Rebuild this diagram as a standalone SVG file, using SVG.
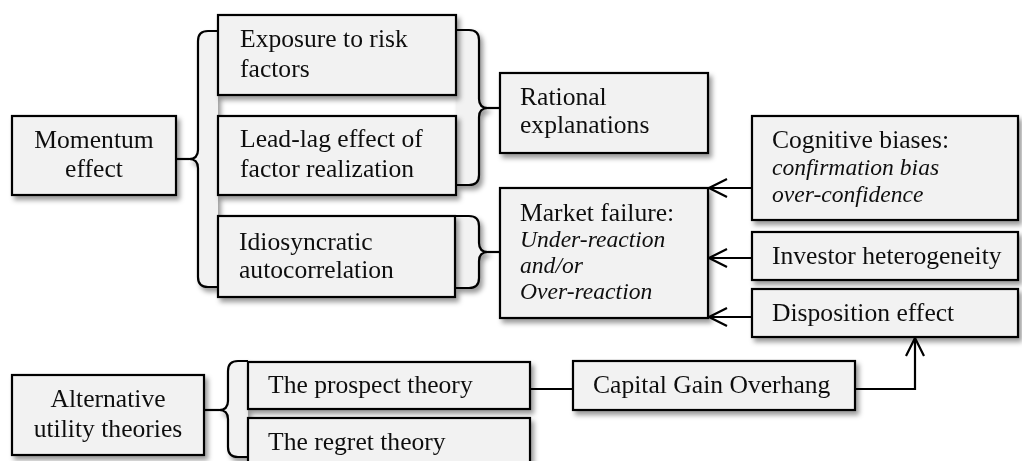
<svg xmlns="http://www.w3.org/2000/svg" width="1022" height="461" viewBox="0 0 1022 461">
<style>
.box{fill:#f2f2f2;stroke:#000;stroke-width:2.2}
.bf{fill:#f2f2f2;stroke:none}
.bs{fill:none;stroke:#000;stroke-width:2.2}
.ln{fill:none;stroke:#000;stroke-width:2.2}
text{font-family:"Liberation Serif","Times New Roman",serif;font-size:25.6px;fill:#111}
.c{text-anchor:middle}
.i{font-style:italic;font-size:23.6px}
</style>
<defs>
<filter id="sh" x="-10%" y="-10%" width="130%" height="140%">
<feDropShadow dx="3" dy="4" stdDeviation="2.5" flood-color="#000" flood-opacity="0.4"/>
</filter>
<marker id="arr" viewBox="-20 -11 22 22" refX="0" refY="0" markerWidth="22" markerHeight="22" orient="auto" markerUnits="userSpaceOnUse">
<path d="M-18,-9 L0,0 L-18,9" fill="none" stroke="#000" stroke-width="2.2"/>
</marker>
</defs>

<g id="braces" filter="url(#sh)">
<path class="bf" d="M218,31 H208 Q198,31 198,41 V150 Q198,159 189,159 Q198,159 198,168 V277 Q198,287 208,287 H218 Z"/>
<path class="bs" d="M218,31 H208 Q198,31 198,41 V150 Q198,159 189,159 Q198,159 198,168 V277 Q198,287 208,287 H218"/>
<path class="bf" d="M456,30 H469 Q479,30 479,40 V99 Q479,108 488,108 Q479,108 479,117 V175 Q479,185 469,185 H456 Z"/>
<path class="bs" d="M456,30 H469 Q479,30 479,40 V99 Q479,108 488,108 Q479,108 479,117 V175 Q479,185 469,185 H456"/>
<path class="bf" d="M455,216 H469 Q479,216 479,226 V243 Q479,252 488,252 Q479,252 479,261 V278 Q479,288 469,288 H455 Z"/>
<path class="bs" d="M455,216 H469 Q479,216 479,226 V243 Q479,252 488,252 Q479,252 479,261 V278 Q479,288 469,288 H455"/>
<path class="bf" d="M248,361 H238 Q228,361 228,371 V401 Q228,410 219,410 Q228,410 228,419 V447 Q228,457 238,457 H248 Z"/>
<path class="bs" d="M248,361 H238 Q228,361 228,371 V401 Q228,410 219,410 Q228,410 228,419 V447 Q228,457 238,457 H248"/>
</g>

<g id="connectors">
<path class="ln" d="M176,159 H189"/>
<path class="ln" d="M488,108 H500"/>
<path class="ln" d="M488,252 H500"/>
<path class="ln" d="M204,410 H219"/>
<path class="ln" d="M530,389 H573"/>
<path class="ln" d="M752,188 H709" marker-end="url(#arr)"/>
<path class="ln" d="M752,258 H709" marker-end="url(#arr)"/>
<path class="ln" d="M752,317 H709" marker-end="url(#arr)"/>
<path class="ln" d="M855,389 H915 V338" marker-end="url(#arr)"/>
</g>

<g id="momentum" filter="url(#sh)">
<rect class="box" x="12" y="116" width="164" height="79"/>
<text class="c" x="94" y="148">Momentum</text>
<text class="c" x="94" y="177">effect</text>
</g>
<g id="exposure" filter="url(#sh)">
<rect class="box" x="218" y="15" width="238" height="80"/>
<text x="240" y="47">Exposure to risk</text>
<text x="240" y="77">factors</text>
</g>
<g id="leadlag" filter="url(#sh)">
<rect class="box" x="218" y="116" width="238" height="79"/>
<text x="240" y="147">Lead-lag effect of</text>
<text x="240" y="177">factor realization</text>
</g>
<g id="idiosyncratic" filter="url(#sh)">
<rect class="box" x="218" y="216" width="237" height="81"/>
<text x="239" y="250">Idiosyncratic</text>
<text x="239" y="278">autocorrelation</text>
</g>
<g id="rational" filter="url(#sh)">
<rect class="box" x="500" y="73" width="208" height="80"/>
<text x="520" y="105">Rational</text>
<text x="520" y="133">explanations</text>
</g>
<g id="market" filter="url(#sh)">
<rect class="box" x="500" y="188" width="208" height="130"/>
<text x="520" y="221">Market failure:</text>
<text class="i" x="520" y="247">Under-reaction</text>
<text class="i" x="520" y="273">and/or</text>
<text class="i" x="520" y="299">Over-reaction</text>
</g>
<g id="cognitive" filter="url(#sh)">
<rect class="box" x="752" y="116" width="266" height="104"/>
<text x="772" y="148">Cognitive biases:</text>
<text class="i" x="772" y="175">confirmation bias</text>
<text class="i" x="772" y="202">over-confidence</text>
</g>
<g id="investor" filter="url(#sh)">
<rect class="box" x="752" y="232" width="266" height="48"/>
<text x="772" y="264">Investor heterogeneity</text>
</g>
<g id="disposition" filter="url(#sh)">
<rect class="box" x="752" y="289" width="266" height="48"/>
<text x="772" y="321">Disposition effect</text>
</g>
<g id="capital" filter="url(#sh)">
<rect class="box" x="573" y="361" width="282" height="49"/>
<text x="593" y="393">Capital Gain Overhang</text>
</g>
<g id="prospect" filter="url(#sh)">
<rect class="box" x="248" y="362" width="282" height="47"/>
<text x="268" y="393">The prospect theory</text>
</g>
<g id="regret" filter="url(#sh)">
<rect class="box" x="248" y="418" width="282" height="60"/>
<text x="268" y="450">The regret theory</text>
</g>
<g id="alternative" filter="url(#sh)">
<rect class="box" x="12" y="375" width="192" height="80"/>
<text class="c" x="108" y="407">Alternative</text>
<text class="c" x="108" y="437">utility theories</text>
</g>
</svg>
